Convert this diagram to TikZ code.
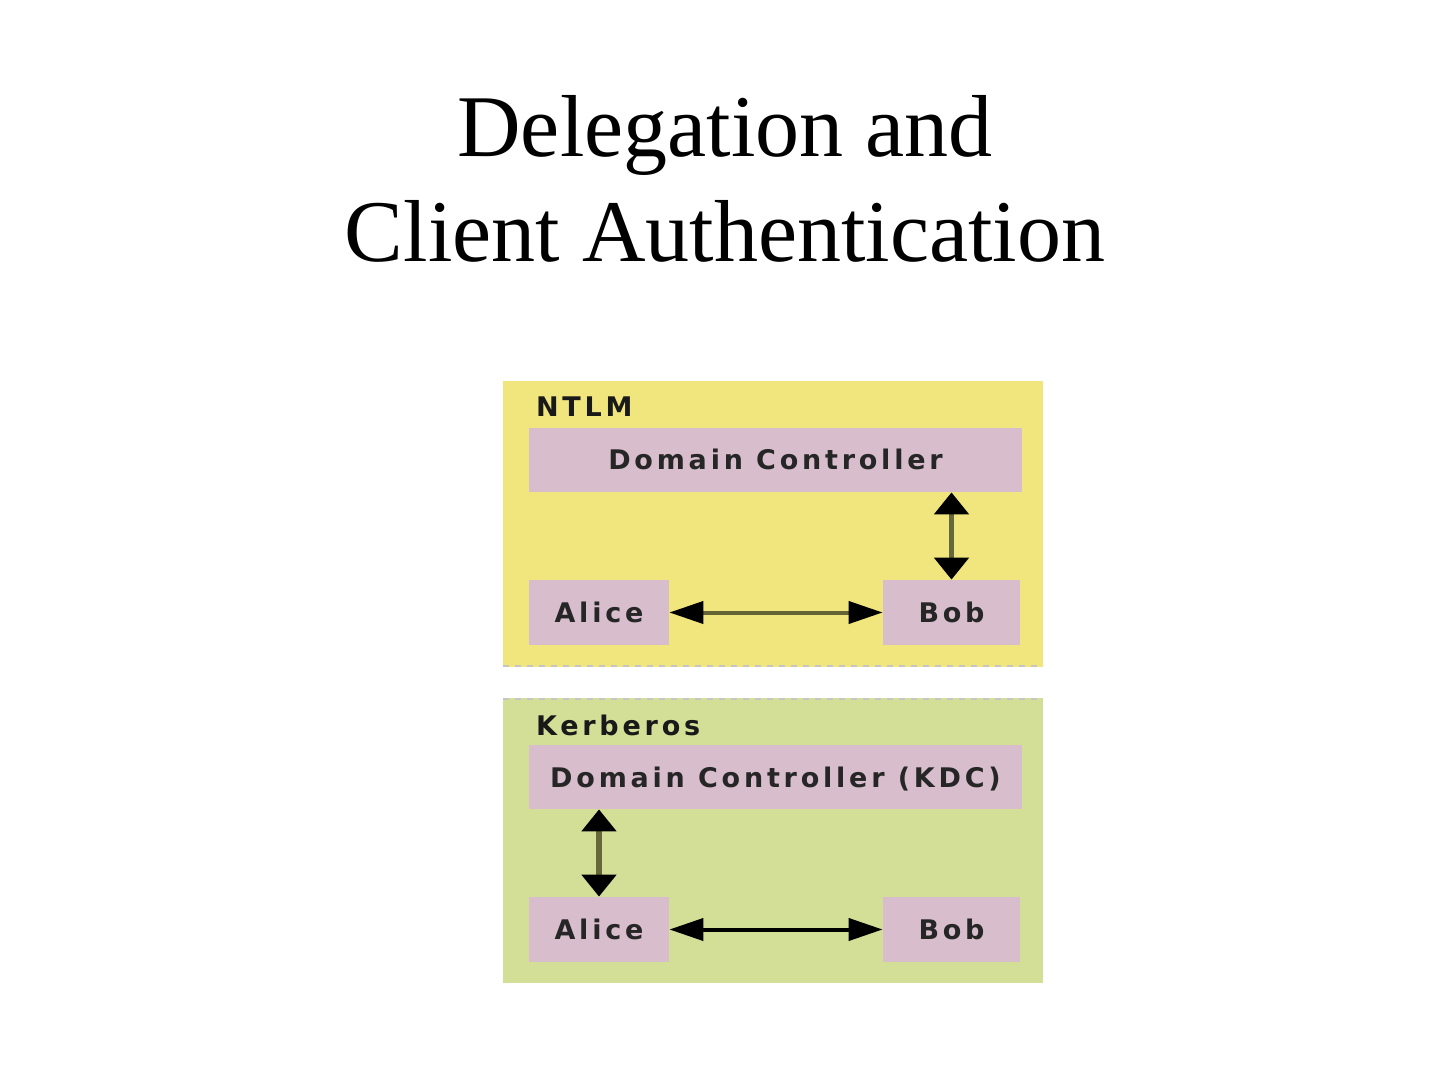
\documentclass[tikz,border=0pt]{standalone}
\usepackage{fontspec}
\setmainfont{Liberation Serif}
\newfontfamily\boxfont{DejaVu Sans}[LetterSpace=14]
\usepackage{xcolor}
\usetikzlibrary{arrows.meta,positioning}

\definecolor{ntlmbg}{RGB}{241,229,126}
\definecolor{kerbbg}{RGB}{211,223,150}
\definecolor{hostbg}{RGB}{216,189,204}
\definecolor{shaft}{RGB}{100,100,52}

\tikzset{
    host/.style={fill=hostbg, inner sep=0pt, text=black!85,
        font=\boxfont\bfseries\fontsize{13.5}{14}\selectfont,
        text height=10pt, text depth=0pt},
    panellabel/.style={anchor=base west, text=black!90,
        font=\boxfont\bfseries\fontsize{13.5}{14}\selectfont},
    hlink/.style={{Triangle[length=17pt,width=11pt,color=black]}-{Triangle[length=17pt,width=11pt,color=black]},
        line width=2pt, draw=shaft},
    vlink/.style={{Triangle[length=11pt,width=17pt,color=black]}-{Triangle[length=11pt,width=17pt,color=black]},
        line width=2.6pt, draw=shaft!90!gray}
}

\begin{document}
\begin{tikzpicture}[x=0.5pt,y=-0.5pt]
    \useasboundingbox (0,0) rectangle (1440,1080);

    \node[font=\fontsize{44}{52}\selectfont,anchor=base] (title1) at (725,157) {Delegation and};
    \node[font=\fontsize{44}{52}\selectfont,anchor=base] (title2) at (725,262) {Client Authentication};

    % NTLM
    \fill[ntlmbg] (503,381) rectangle (1043,667);
    \draw[gray!45,dashed,line width=1pt] (503,666) -- (1043,666);
    \node[panellabel] (ntlm) at (529,417) {NTLM};
    \node[host,minimum width=246.5pt,minimum height=32pt] (dcntlm) at (775.5,460) {Domain Controller};
    \node[host,minimum width=70pt,minimum height=32.5pt] (alntlm) at (599,612.5) {Alice};
    \node[host,minimum width=68.5pt,minimum height=32.5pt] (bobntlm) at (951.5,612.5) {Bob};
    \draw[hlink] (alntlm) -- (bobntlm);
    \draw[vlink] (bobntlm.north) -- (bobntlm.north |- dcntlm.south);

    % Kerberos
    \fill[kerbbg] (503,698) rectangle (1043,983);
    \draw[gray!45,dashed,line width=1pt] (503,699) -- (1043,699);
    \node[panellabel] (kerb) at (529,735) {Kerberos};
    \node[host,minimum width=246.5pt,minimum height=32pt] (dckerb) at (775.5,777) {Domain Controller (KDC)};
    \node[host,minimum width=70pt,minimum height=32.5pt] (alkerb) at (599,929.5) {Alice};
    \node[host,minimum width=68.5pt,minimum height=32.5pt] (bobkerb) at (951.5,929.5) {Bob};
    \draw[hlink,draw=black] (alkerb) -- (bobkerb);
    \draw[vlink] (alkerb.north) -- (alkerb.north |- dckerb.south);
\end{tikzpicture}
\end{document}
